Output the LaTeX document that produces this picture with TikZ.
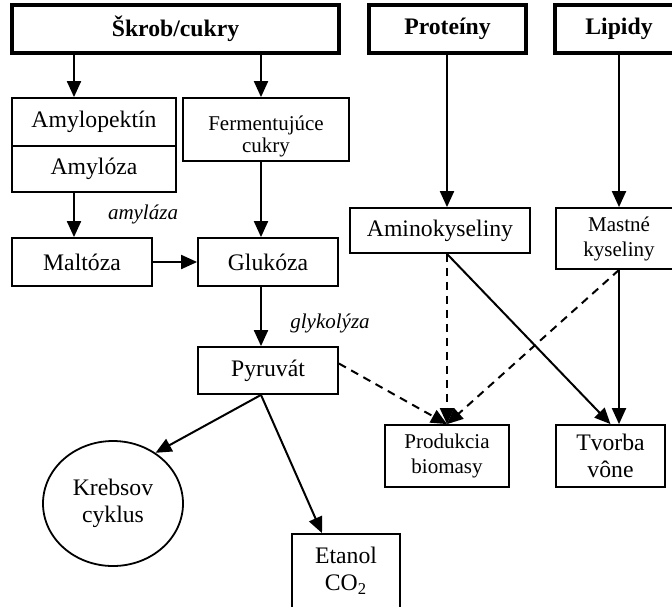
\documentclass[tikz,border=0pt]{standalone}
\usepackage{fontspec}
\setmainfont{Liberation Serif}
\usetikzlibrary{arrows.meta, shapes.geometric}

\begin{document}
\begin{tikzpicture}[x=0.5pt, y=-0.5pt,
  box/.style={draw, line width=0.9pt, inner sep=0pt, align=center,
    font=\fontsize{11.85}{13.5}\selectfont},
  smallbox/.style={box, font=\fontsize{10.5}{12.5}\selectfont},
  topbox/.style={box, line width=2pt, font=\fontsize{11.85}{13.5}\selectfont\bfseries},
  arr/.style={line width=1pt, -{Triangle[length=8pt,width=7pt]}},
  darr/.style={arr, dash pattern=on 4pt off 3pt},
  enzyme/.style={font=\fontsize{10.5}{12}\selectfont\itshape}]
\clip (0,0) rectangle (672,606);
% columns of the vertical arrows
\coordinate (colA) at (74,0);
\coordinate (colB) at (261,0);
\coordinate (colP) at (447,0);
\coordinate (colL) at (619,0);
\coordinate (colE) at (322,0);
% sources
\node[topbox, minimum width=163.5pt, minimum height=24pt] (skrob) at (175.5,29) {Škrob/cukry};
\node[topbox, minimum width=78.5pt, minimum height=24pt] (prot) at (447.5,29) {Proteíny};
\node[topbox, minimum width=64pt, minimum height=24pt] (lip) at (619,29) {Lipidy};
% sugars
\node[box, minimum width=82pt, minimum height=24pt] (amylop) at (94,122) {Amylopektín};
\node[box, minimum width=82pt, minimum height=23pt] (amyloz) at (94,169) {Amylóza};
\node[smallbox, minimum width=83pt, minimum height=31.5pt,
  label={[font=\fontsize{10.5}{11}\selectfont, align=center, yshift=-3.5pt]center:Fermentujúce\\cukry}]
  (ferm) at (266,129.5) {};
\node[box, minimum width=70pt, minimum height=24pt] (malt) at (82,262) {Maltóza};
\node[box, minimum width=70pt, minimum height=24pt] (gluk) at (268,262) {Glukóza};
\node[box, minimum width=70pt, minimum height=23.5pt] (pyr) at (268,370.5) {Pyruvát};
\node[enzyme] (amylaza) at (143,214) {amyláza};
\node[enzyme] (glykol) at (330,323) {glykolýza};
% proteins, lipids
\node[box, minimum width=90pt, minimum height=22.5pt] (amino) at (440,230.5) {Aminokyseliny};
\node[smallbox, minimum width=63pt, minimum height=30.5pt] (mast) at (619,238.5) {Mastné\\kyseliny};
% products
\node[smallbox, minimum width=62pt, minimum height=31pt] (prod) at (447,456) {Produkcia\\biomasy};
\node[box, minimum width=54.5pt, minimum height=31pt] (tvor) at (610.5,456) {Tvorba\\vône};
\node[box, ellipse, minimum width=70pt, minimum height=62.5pt] (krebs) at (113,503.5) {Krebsov\\cyklus};
\node[box, minimum width=54pt, minimum height=37pt] (etan) at (346,571) {Etanol\\CO\textsubscript{2}};
% connectors
\draw[arr] (skrob.south -| colA) -- (amylop.north -| colA);
\draw[arr] (skrob.south -| colB) -- (ferm.north -| colB);
\draw[arr] (amyloz.south -| colA) -- (malt.north -| colA);
\draw[arr] (ferm.south -| colB) -- (gluk.north -| colB);
\draw[arr] (malt.east) -- (gluk.west);
\draw[arr] (gluk.south -| colB) -- (pyr.north -| colB);
\draw[arr] (prot.south -| colP) -- (amino.north -| colP);
\draw[arr] (lip.south -| colL) -- (mast.north -| colL);
\draw[arr] (pyr.south -| colB) -- (krebs.50);
\draw[arr] (pyr.south -| colB) -- (etan.north -| colE);
\draw[darr] (pyr.east) ++(0,-7) -- (prod.north);
\draw[darr] (amino.south -| colP) -- (prod.north);
\draw[darr] (mast.south -| colL) -- (prod.north);
\draw[arr] (amino.south -| colP) -- (tvor.north);
\draw[arr] (mast.south -| colL) -- (tvor.north -| colL);
\end{tikzpicture}
\end{document}
